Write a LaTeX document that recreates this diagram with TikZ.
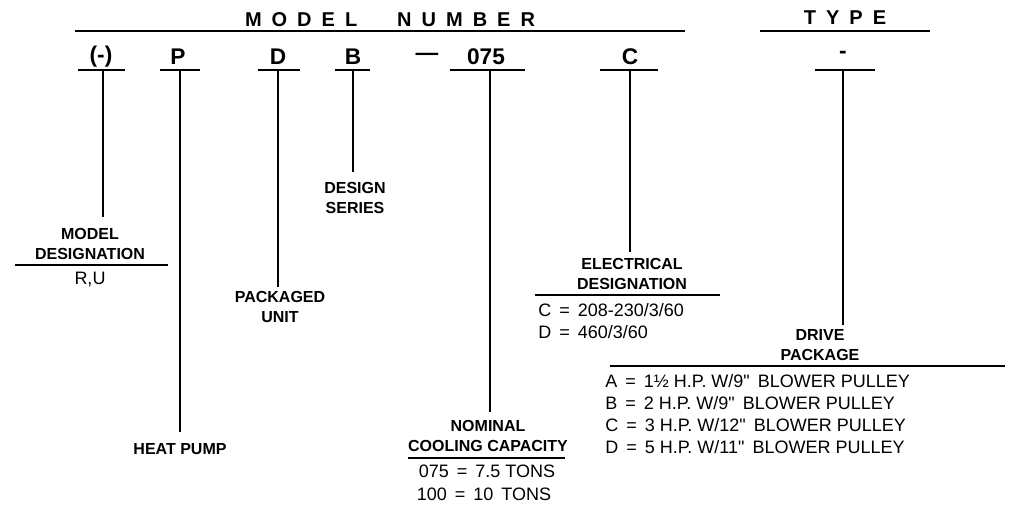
\documentclass[tikz,border=0pt]{standalone}
\usepackage{fontspec}
\setmainfont{Liberation Sans}
\begin{document}
\begin{tikzpicture}[x=0.75pt,y=-0.75pt,
  lbl/.style={font=\bfseries\fontsize{12}{13}\selectfont,inner sep=0pt,align=center},
  hdr/.style={font=\bfseries\fontsize{17}{19}\selectfont,inner sep=0pt},
  lst/.style={font=\fontsize{13.5}{15}\selectfont,inner sep=0pt,anchor=west},
  ln/.style={line width=1pt}]
\useasboundingbox (0,0) rectangle (1024,515);
\node[hdr,font=\bfseries\fontsize{15}{17}\selectfont] (mn) at (390,20) {M\,\,\,O\,\,\,D\,\,\,E\,\,\,L\qquad N\,\,\,U\,\,\,M\,\,\,B\,\,\,E\,\,\,R};
\node[hdr,font=\bfseries\fontsize{15}{17}\selectfont] (ty) at (845,18) {T\,\,\,Y\,\,\,P\,\,\,E};
\draw[ln] (75,31) -- (685,31);
\draw[ln] (760,31) -- (930,31);
\node[hdr] (h1) at (101,57) {(-)};
\node[hdr] (h2) at (178,57) {P};
\node[hdr] (h3) at (278,57) {D};
\node[hdr] (h4) at (353,57) {B};
\node[hdr] (h5) at (427,57) {---};
\node[hdr] (h6) at (486,57) {075};
\node[hdr] (h7) at (630,57) {C};
\node[hdr] (h8) at (843,55) {-};
\foreach \a/\b in {78/125,160/200,258/300,335/370,450/525,600/658,815/875}
  \draw[ln] (\a,70) -- (\b,70);
\coordinate (t1) at (103,70); \coordinate (e1) at (103,217);
\coordinate (t2) at (180,70); \coordinate (e2) at (180,432);
\coordinate (t3) at (278,70); \coordinate (e3) at (278,287);
\coordinate (t4) at (353,70); \coordinate (e4) at (353,172);
\coordinate (t6) at (490,70); \coordinate (e6) at (490,412);
\coordinate (t7) at (630,70); \coordinate (e7) at (630,252);
\coordinate (t8) at (843,70); \coordinate (e8) at (843,325);
\foreach \i in {1,2,3,4,6,7,8} \draw[ln] (t\i) -- (e\i);
\node[lbl] (ds) at (355,198) {DESIGN\\[2pt]SERIES};
\node[lbl] (md) at (90,244) {MODEL\\[2pt]DESIGNATION};
\draw[ln] (15,265) -- (168,265);
\node[font=\fontsize{13.5}{15}\selectfont] (ru) at (90,279) {R,U};
\node[lbl] (pu) at (280,307) {PACKAGED\\[2pt]UNIT};
\node[lbl] (hp) at (180,449) {HEAT PUMP};
\node[lbl] (ed) at (632,274) {ELECTRICAL\\[2pt]DESIGNATION};
\draw[ln] (535,295) -- (720,295);
\node[lst] (c1) at (538,310) {C \,=\, 208-230/3/60};
\node[lst] (c2) at (538,332) {D \,=\, 460/3/60};
\node[lbl] (nc) at (488,436) {NOMINAL\\[2pt]COOLING CAPACITY};
\draw[ln] (408,458) -- (565,458);
\node[font=\fontsize{13.5}{15}\selectfont] (n1) at (487,471) {075 \,=\, 7.5 TONS};
\node[font=\fontsize{13.5}{15}\selectfont] (n2) at (484,494) {100 \,=\, 10 \,TONS};
\node[lbl] (dp) at (820,345) {DRIVE\\[2pt]PACKAGE};
\draw[ln] (610,366) -- (1005,366);
\node[lst] (d1) at (605,381) {A \,=\, 1½ H.P. W/9\textquotedbl\ \,BLOWER PULLEY};
\node[lst] (d2) at (605,403) {B \,=\, 2 H.P. W/9\textquotedbl\ \,BLOWER PULLEY};
\node[lst] (d3) at (605,425) {C \,=\, 3 H.P. W/12\textquotedbl\ \,BLOWER PULLEY};
\node[lst] (d4) at (605,447) {D \,=\, 5 H.P. W/11\textquotedbl\ \,BLOWER PULLEY};
\end{tikzpicture}
\end{document}
